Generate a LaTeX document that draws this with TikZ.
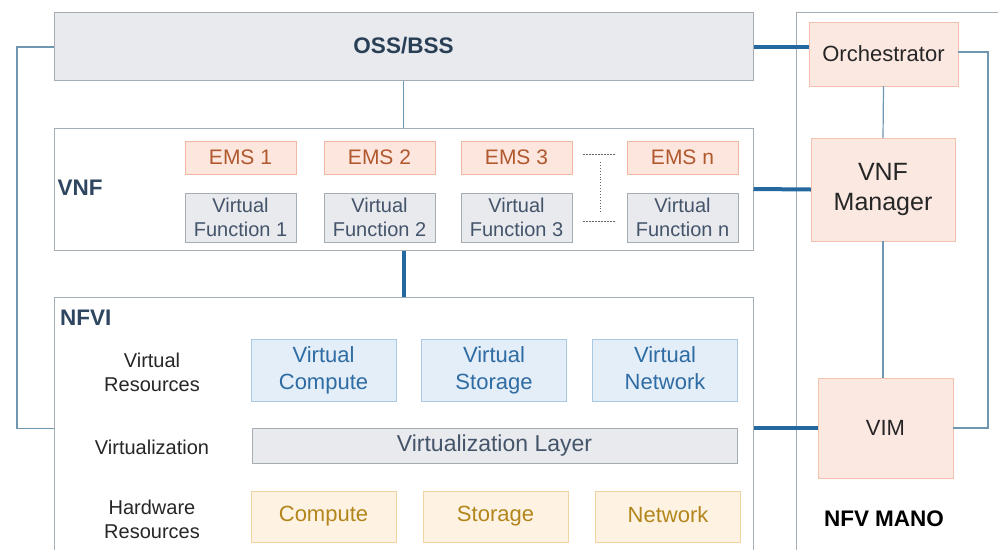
\documentclass[tikz,border=0pt]{standalone}
\usepackage{fontspec}
\setmainfont{Liberation Sans}
\usetikzlibrary{positioning,calc}
\definecolor{boxline}{HTML}{A4ACB4}
\definecolor{grayfill}{HTML}{E8EAEE}
\definecolor{emsfill}{HTML}{FCE6DD}
\definecolor{emsline}{HTML}{F0B8A2}
\definecolor{emstext}{HTML}{B0582E}
\definecolor{vftext}{HTML}{44546A}
\definecolor{vrfill}{HTML}{E3EEF8}
\definecolor{vrline}{HTML}{A9C8E2}
\definecolor{vrtext}{HTML}{2F6CA3}
\definecolor{hwfill}{HTML}{FEF3E3}
\definecolor{hwline}{HTML}{F3D29F}
\definecolor{hwtext}{HTML}{B3861C}
\definecolor{manofill}{HTML}{FBE8E1}
\definecolor{manoline}{HTML}{F2C2AF}
\definecolor{thinlink}{HTML}{6F97B2}
\definecolor{thicklink}{HTML}{2468A0}
\definecolor{labeltext}{HTML}{2E4660}

\begin{document}
\begin{tikzpicture}[x=1pt, y=-1pt,
    nodes={inner sep=0, align=center},
    frame/.style={draw=boxline, line width=1pt, fill=white},
    emsbox/.style={draw=emsline, fill=emsfill, text=emstext,
      minimum width=111pt, minimum height=33pt,
      font=\fontsize{21}{25}\selectfont},
    vfbox/.style={draw=boxline, fill=grayfill, text=vftext,
      minimum width=111pt, minimum height=49pt,
      font=\fontsize{20}{24}\selectfont},
    vrbox/.style={draw=vrline, fill=vrfill, text=vrtext,
      minimum width=145pt, minimum height=62pt,
      font=\fontsize{22}{27}\selectfont, execute at end node=\vphantom{p}},
    hwbox/.style={draw=hwline, fill=hwfill, text=hwtext,
      minimum width=145pt, minimum height=51pt,
      font=\fontsize{22}{27}\selectfont, execute at end node=\vphantom{p}},
    manobox/.style={draw=manoline, fill=manofill, text=black!85,
      font=\fontsize{22}{27}\selectfont},
    sidelabel/.style={text=black!85, font=\fontsize{20}{24}\selectfont},
    thin/.style={draw=thinlink, line width=1.2pt},
    thick/.style={draw=thicklink, line width=4pt}]
  \useasboundingbox (0,0) rectangle (998,549);
  \clip (0,0) rectangle (998,549);

  % main blocks
  \node[frame, fill=grayfill, minimum width=699pt, minimum height=68pt,
    font=\fontsize{22.5}{27}\selectfont\bfseries, text=labeltext!90!black]
    (oss) at (403.5,46) {OSS/BSS};
  \node[frame, minimum width=699pt, minimum height=122pt] (vnf) at (403.5,189) {};
  \node[frame, minimum width=699pt, minimum height=263pt] (nfvi) at (403.5,428.5) {};
  \node[frame, minimum width=214pt, minimum height=548pt] (mano) at (903,286) {};

  \node[text=labeltext, font=\fontsize{22.5}{27}\selectfont\bfseries] (vnflabel) at (80,188) {VNF};
  \node[anchor=west, text=labeltext, font=\fontsize{22.5}{27}\selectfont\bfseries] (nfvilabel) at (60,318) {NFVI};

  % VNF row
  \node[emsbox] (ems1) at (240.5,157.5) {EMS 1};
  \node[emsbox] (ems2) at (379.5,157.5) {EMS 2};
  \node[emsbox] (ems3) at (516.5,157.5) {EMS 3};
  \node[emsbox] (emsn) at (682.5,157.5) {EMS n};
  \node[vfbox] (vf1) at (240.5,217.5) {Virtual\\Function 1};
  \node[vfbox] (vf2) at (379.5,217.5) {Virtual\\Function 2};
  \node[vfbox] (vf3) at (516.5,217.5) {Virtual\\Function 3};
  \node[vfbox] (vfn) at (682.5,217.5) {Virtual\\Function n};

  \draw[black!60, dash pattern=on 2pt off 1pt, line width=0.8pt]
    ($(ems3.east)+(11,-3)$) -- ($(emsn.west)+(-12,-3)$);
  \draw[black!60, dash pattern=on 2pt off 1pt, line width=0.8pt]
    ($(vf3.east)+(11,3.5)$) -- ($(vfn.west)+(-12,3.5)$);
  \draw[black!60, dotted, line width=0.9pt] (600,162) -- (600,213);

  % NFVI rows
  \node[sidelabel] (vrlabel) at (152,372) {Virtual\\Resources};
  \node[sidelabel] (vlabel) at (152,447) {Virtualization};
  \node[sidelabel] (hwlabel) at (152,519) {Hardware\\Resources};
  \node[vrbox] (vcomp) at (323.5,370) {Virtual\\Compute};
  \node[vrbox] (vstor) at (494,370) {Virtual\\Storage};
  \node[vrbox] (vnet) at (665,370) {Virtual\\Network};
  \node[draw=boxline, fill=grayfill, text=vftext, minimum width=485pt,
    minimum height=35pt, font=\fontsize{23}{27}\selectfont]
    (vlayer) at (494.5,445.5) {Virtualization Layer};
  \node[hwbox] (comp) at (323.5,516.5) {Compute};
  \node[hwbox] (stor) at (495.5,516.5) {Storage};
  \node[hwbox] (net) at (668,516.5) {Network};

  % MANO
  \node[manobox, minimum width=149pt, minimum height=64pt] (orch) at (883.5,54) {Orchestrator};
  \node[manobox, minimum width=144pt, minimum height=103pt,
    font=\fontsize{25}{30}\selectfont] (vnfm) at (883,189.5) {VNF\\Manager};
  \node[manobox, minimum width=135pt, minimum height=100pt] (vim) at (885.5,428) {VIM};
  \node[text=black, font=\fontsize{22.5}{27}\selectfont\bfseries] (manolabel) at (884,519) {NFV MANO};

  % links
  \coordinate (leftbend) at (17,47);
  \coordinate (rightbend) at (988,52);
  \draw[thin] (oss.west |- leftbend) -- (leftbend) -- (leftbend |- nfvi.west) -- (nfvi.west);
  \draw[thin] (oss.south) -- (vnf.north);
  \draw[thin] (orch.south) -- (vnfm.north);
  \draw[thin] (vnfm.south) -- (vnfm.south |- vim.north);
  \draw[thin] (orch.east |- rightbend) -- (rightbend) -- (rightbend |- vim.east) -- (vim.east);
  \draw[thick] (vnf.south) -- (nfvi.north);
  \draw[thick] (oss.east |- leftbend) -- (orch.west |- leftbend);
  \draw[thick] (vnf.east) -- (vnfm.west);
  \draw[thick] (nfvi.east |- vim.west) -- (vim.west);
\end{tikzpicture}
\end{document}
